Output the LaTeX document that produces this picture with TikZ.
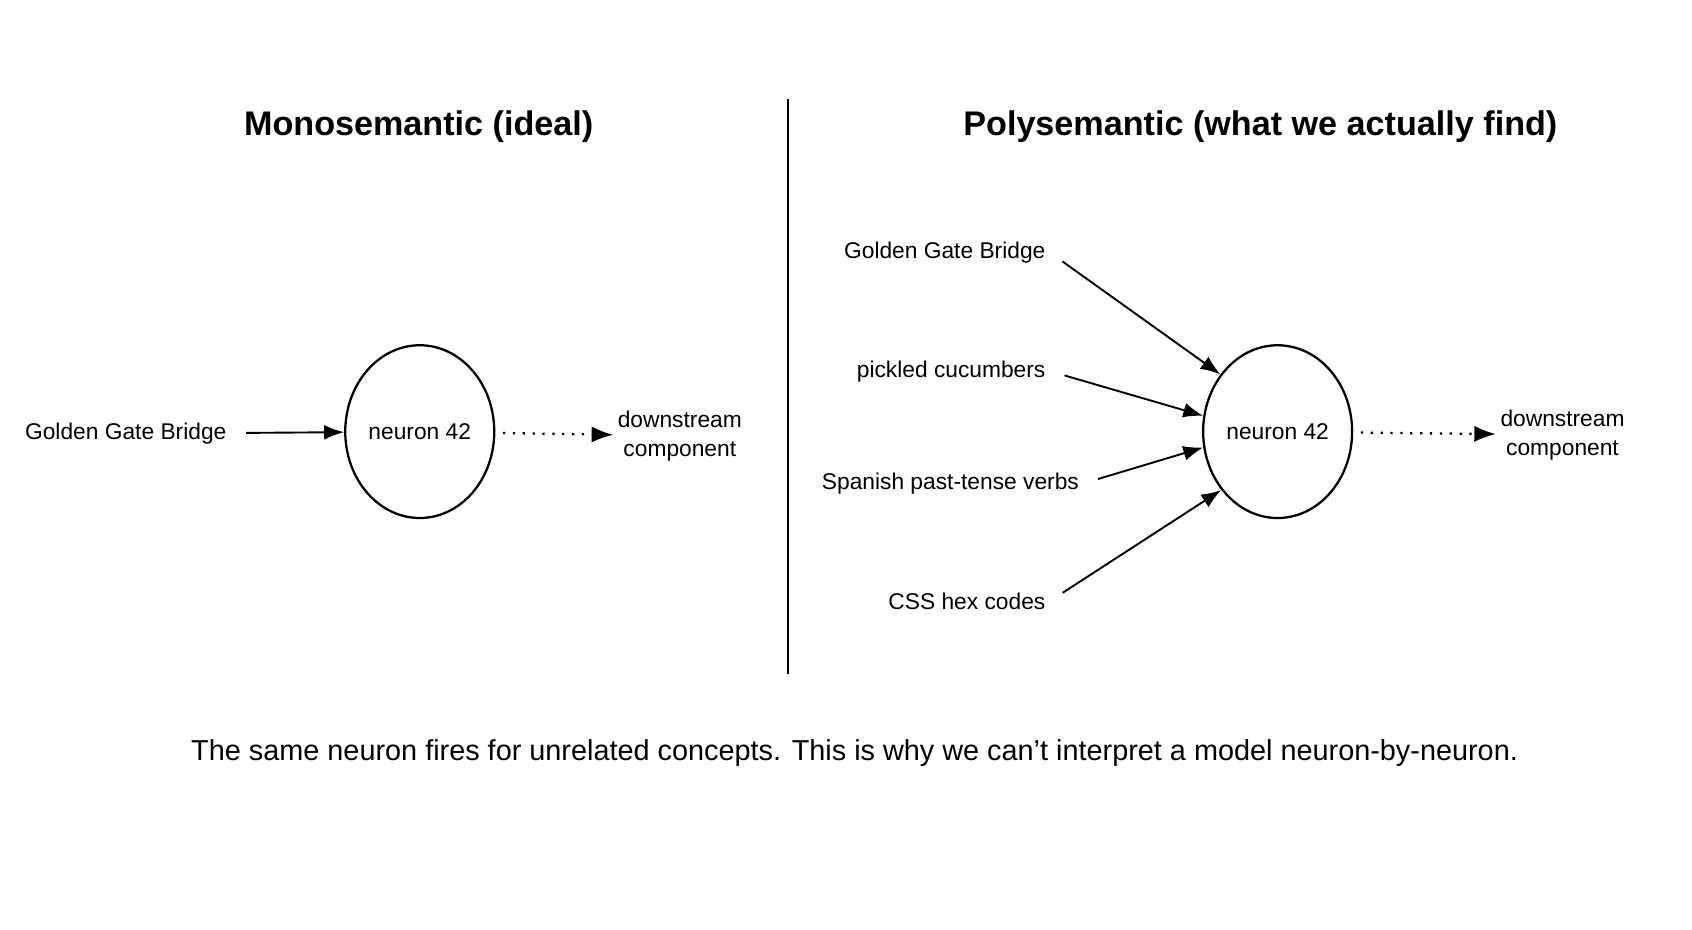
\documentclass[tikz,border=0pt]{standalone}
\usepackage{fontspec}
\setmainfont{Liberation Sans}
\usetikzlibrary{arrows.meta}
\usetikzlibrary{shapes.geometric}
\usetikzlibrary{positioning}

\begin{document}
\begin{tikzpicture}[x=0.01cm, y=-0.01cm,
	neuron/.style = {draw, line width = 0.6pt, ellipse, inner sep = 0pt, minimum width = 1.38cm, minimum height = 1.6cm, label={[font=\fontsize{6}{7}\selectfont]center:#1}},
	lbl/.style = {font=\fontsize{6}{7.6}\selectfont, inner sep = 1pt},
	ttl/.style = {font=\bfseries\fontsize{9}{11}\selectfont},
	feed/.style = {-Latex, line width = 0.5pt, shorten < = 4pt},
	fire/.style = {-Latex, line width = 0.6pt, dotted, shorten < = 2pt}]
	\useasboundingbox (0,0) rectangle (1568,861);
	
	% left half
	\node [ttl] (monoT) at (388,117) {Monosemantic (ideal)};
	\node [neuron={neuron 42}] (monoN) at (389,400) {};
	\node [lbl, anchor=east] (monoIn) at (214,402) {Golden Gate Bridge};
	\node [lbl, align=center] (monoOut) at (630,404) {downstream\\component};
	\draw [feed] (monoIn) -- (monoN);
	\draw [fire] (monoN) -- (monoOut);
	
	% divider
	\coordinate (divTop) at (730,92);
	\coordinate (divBot) at (730,625);
	\draw [line width = 0.5pt] (divTop) -- (divBot);
	
	% right half
	\node [ttl] (polyT) at (1168,117) {Polysemantic (what we actually find)};
	\node [neuron={neuron 42}] (polyN) at (1184,400) {};
	\node [lbl, anchor=east] (inA) at (973,234) {Golden Gate Bridge};
	\node [lbl, anchor=east] (inB) at (973,344) {pickled cucumbers};
	\node [lbl, anchor=east] (inC) at (1004,448) {Spanish past-tense verbs};
	\node [lbl, anchor=east] (inD) at (973,557) {CSS hex codes};
	\node [lbl, align=center] (polyOut) at (1448,403) {downstream\\component};
	\draw [feed] (inA.east) -- (polyN.135);
	\draw [feed] (inB.east) -- (polyN.168);
	\draw [feed] (inC.east) -- (polyN.192);
	\draw [feed] (inD.east) -- (polyN.226);
	\draw [fire] (polyN) -- (polyOut);
	
	\node [font=\fontsize{7.6}{9}\selectfont] (note) at (792,698) {The same neuron fires for unrelated concepts. This is why we can{\char"27}t interpret a model neuron-by-neuron.};
\end{tikzpicture}
\end{document}
